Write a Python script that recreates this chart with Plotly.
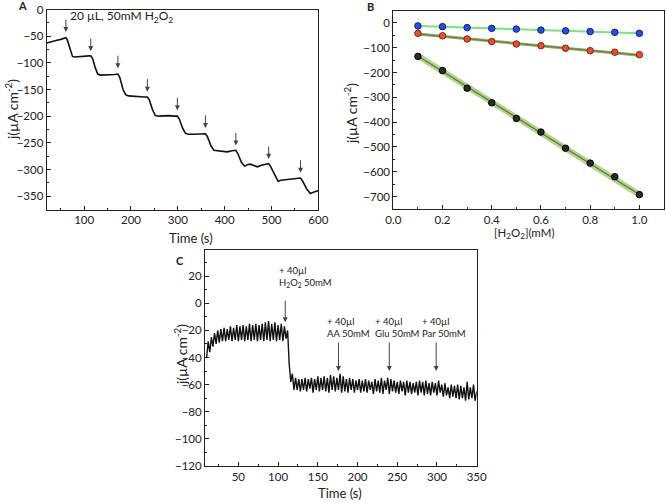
import plotly.graph_objects as go

W, H = 666, 503
FONT = "Lato"

# ---------------- Panel A data ----------------
a_time = [20, 30, 40, 50, 58, 61, 64, 70, 75, 80, 90, 100, 110, 114, 118, 124, 129, 135, 145, 155, 165, 172,
          176, 183, 189, 195, 205, 215, 228, 235, 239, 246, 252, 260, 270, 280, 292, 299, 303, 310, 316, 322,
          335, 348, 359, 363, 371, 377, 385, 395, 405, 416, 424, 428, 436, 443, 448, 455, 462, 470, 478, 488,
          494, 498, 507, 514, 520, 530, 540, 552, 562, 566, 575, 583, 588, 595, 600]
a_curr = [-63, -60, -58, -56, -54, -53, -57, -75, -88, -89, -88, -88, -87, -87, -92, -110, -121, -123, -123, -123,
          -122, -121, -127, -150, -160, -162, -163, -164, -164, -164, -169, -188, -199, -200, -199, -199, -200,
          -200, -205, -222, -232, -234, -234, -234, -233, -238, -256, -264, -265, -266, -267, -265, -264, -270,
          -287, -294, -291, -290, -293, -295, -292, -290, -289, -294, -310, -322, -320, -319, -319, -318, -316,
          -321, -336, -345, -343, -341, -340]
a_arrow_time = [61, 114, 172, 235, 299, 359, 424, 494, 562]
a_arrow_tip = [-42, -78, -110, -154, -189, -222, -255, -280, -306]

# ---------------- Panel B data ----------------
b_conc = [0.1, 0.2, 0.3, 0.4, 0.5, 0.6, 0.7, 0.8, 0.9, 1.0]
b_blue = [-12, -15, -19, -22, -25, -29, -32, -35, -38, -42]
b_red = [-42, -52, -65, -75, -85, -92, -102, -112, -118, -128]
b_black = [-135, -192, -263, -322, -385, -440, -505, -565, -620, -692]
b_fit_x = [0.1, 1.0]
b_fit_blue = [-12, -42]
b_fit_red = [-45, -130]
b_fit_black = [-133, -692]

# ---------------- Panel C data ----------------
c_time = [10, 12, 14, 16, 18, 20, 22, 24, 26, 28, 30, 32, 34, 36, 38, 40, 42, 44, 46, 48,
          50, 52, 54, 56, 58, 60, 62, 64, 66, 68, 70, 72, 74, 76, 78, 80, 82, 84, 86, 88,
          90, 92, 94, 96, 98, 100, 102, 104, 106, 108, 110, 112, 114, 116, 118, 120, 122, 124, 126, 128,
          130, 132, 134, 136, 138, 140, 142, 144, 146, 148, 150, 152, 154, 156, 158, 160, 162, 164, 166, 168,
          170, 172, 174, 176, 178, 180, 182, 184, 186, 188, 190, 192, 194, 196, 198, 200, 202, 204, 206, 208,
          210, 212, 214, 216, 218, 220, 222, 224, 226, 228, 230, 232, 234, 236, 238, 240, 242, 244, 246, 248,
          250, 252, 254, 256, 258, 260, 262, 264, 266, 268, 270, 272, 274, 276, 278, 280, 282, 284, 286, 288,
          290, 292, 294, 296, 298, 300, 302, 304, 306, 308, 310, 312, 314, 316, 318, 320, 322, 324, 326, 328,
          330, 332, 334, 336, 338, 340, 342, 344, 346, 348, 350]
c_curr = [-40, -28, -36, -25, -32, -22, -30, -20, -29, -19, -28, -18, -28, -19, -27, -17, -28, -18, -27, -16,
          -28, -17, -27, -16, -28, -17, -27, -15, -28, -16, -27, -15, -28, -16, -27, -15, -28, -14, -27, -13,
          -28, -15, -27, -14, -28, -16, -27, -15, -28, -17, -26, -20, -45, -58, -52, -64, -55, -64, -56, -65,
          -56, -64, -55, -65, -56, -63, -55, -66, -56, -64, -54, -65, -55, -64, -54, -65, -55, -66, -53, -64,
          -54, -65, -55, -64, -52, -66, -54, -65, -56, -66, -55, -64, -56, -66, -57, -64, -56, -66, -57, -65,
          -56, -66, -57, -64, -58, -67, -56, -65, -57, -66, -55, -67, -57, -64, -55, -67, -56, -65, -57, -66,
          -58, -67, -57, -65, -58, -68, -57, -66, -58, -67, -59, -66, -58, -68, -57, -66, -58, -68, -57, -67,
          -59, -68, -58, -66, -59, -68, -57, -66, -60, -69, -59, -68, -62, -70, -60, -69, -61, -70, -60, -71,
          -61, -70, -62, -72, -58, -71, -62, -70, -60, -72, -65]
c_arrow_time = [109, 176, 240, 299]
c_label_time = [98, 159, 219, 278]
c_labels = ["+ 40µl<br>H<sub>2</sub>O<sub>2</sub> 50mM", "+ 40µl<br>AA 50mM",
            "+ 40µl<br>Glu 50mM", "+ 40µl<br>Par 50mM"]

# ---------------- geometry helpers ----------------
def dx(x0, x1):
    return [x0 / W, x1 / W]

def dy(y0, y1):  # pixel top, pixel bottom
    return [1 - y1 / H, 1 - y0 / H]

def axis(domain, rng, dtick, minor_dtick, anchor, fmt=None):
    d = dict(domain=domain, range=rng, dtick=dtick, tick0=0, showline=True, linecolor="#222", linewidth=1,
             mirror=True, ticks="inside", ticklen=4, tickcolor="#222", tickwidth=1,
             minor=dict(ticks="inside", ticklen=2, dtick=minor_dtick, tick0=0, tickcolor="#222"),
             showgrid=False, zeroline=False, anchor=anchor, automargin=False,
             tickfont=dict(family=FONT, size=11.5, color="#222"))
    if fmt:
        d["tickformat"] = fmt
    return d

fig = go.Figure()

# Panel A
fig.add_trace(go.Scatter(x=a_time, y=a_curr, mode="lines", line=dict(color="#111", width=1.6),
                         xaxis="x", yaxis="y", showlegend=False))

# Panel B fits
fig.add_trace(go.Scatter(x=b_fit_x, y=b_fit_black, mode="lines", line=dict(color="#b3d38e", width=6),
                         xaxis="x2", yaxis="y2", showlegend=False))
fig.add_trace(go.Scatter(x=b_fit_x, y=b_fit_black, mode="lines", line=dict(color="#5d7a38", width=1.2),
                         xaxis="x2", yaxis="y2", showlegend=False))
fig.add_trace(go.Scatter(x=b_fit_x, y=b_fit_red, mode="lines", line=dict(color="#93ad63", width=3),
                         xaxis="x2", yaxis="y2", showlegend=False))
fig.add_trace(go.Scatter(x=b_fit_x, y=b_fit_red, mode="lines", line=dict(color="#5d7a38", width=1),
                         xaxis="x2", yaxis="y2", showlegend=False))
fig.add_trace(go.Scatter(x=b_fit_x, y=b_fit_blue, mode="lines", line=dict(color="#7ee07e", width=2),
                         xaxis="x2", yaxis="y2", showlegend=False))
for vals, fill, edge in [(b_blue, "#2a4ee0", "#0b1c85"), (b_red, "#e5502e", "#8a2410"),
                         (b_black, "#2a2a2a", "#000000")]:
    fig.add_trace(go.Scatter(x=b_conc, y=vals, mode="markers",
                             marker=dict(size=6.5, color=fill, line=dict(color=edge, width=1)),
                             xaxis="x2", yaxis="y2", showlegend=False))

# Panel C
fig.add_trace(go.Scatter(x=c_time, y=c_curr, mode="lines", line=dict(color="#111", width=1.4),
                         xaxis="x3", yaxis="y3", showlegend=False))

layout = dict(
    template="none",
    width=W, height=H, margin=dict(l=0, r=0, t=0, b=0, pad=0),
    paper_bgcolor="white", plot_bgcolor="white",
    font=dict(family=FONT, size=12, color="#222"),
    xaxis=axis(dx(46.7, 318.3), [20, 600], 100, 50, "y"),
    yaxis=axis(dy(9.5, 209.5), [-375, 0], 50, 25, "x"),
    xaxis2=axis(dx(393.3, 664), [0, 1.1], 0.2, 0.1, "y2", fmt=".1f"),
    yaxis2=axis(dy(10.5, 209), [-750, 50], 100, 50, "x2"),
    xaxis3=axis(dx(205, 476.7), [8, 350], 50, 25, "y3"),
    yaxis3=axis(dy(250, 465.7), [-120, 39.5], 20, 10, "x3"),
)
fig.update_layout(**layout)

ann = []
def ptext(x, y, text, size=13, angle=0, bold=False, xanchor="center"):
    ann.append(dict(x=x / W, y=1 - y / H, xref="paper", yref="paper", text=("<b>%s</b>" % text) if bold else text,
                    showarrow=False, textangle=angle, xanchor=xanchor, yanchor="middle",
                    font=dict(family=FONT, size=size, color="#222")))

# panel letters
ptext(22, 5, "A", 11, bold=True)
ptext(370, 6, "B", 11, bold=True)
ptext(180, 260, "C", 11, bold=True)
# axis titles
ptext(11, 110, "j(µA cm<sup>-2</sup>)", 14, angle=-90)
ptext(191, 238, "Time (s)", 13)
ptext(351, 113, "j(µA cm<sup>-2</sup>)", 14, angle=-90)
ptext(524, 233, "[H<sub>2</sub>O<sub>2</sub>](mM)", 11.5)
ptext(180, 355, "j(µA cm<sup>-2</sup>)", 14, angle=-90)
ptext(340, 493, "Time (s)", 13)

# Panel A arrows
for t, tip in zip(a_arrow_time, a_arrow_tip):
    ann.append(dict(x=t, y=tip, xref="x", yref="y", ax=0, ay=-14, showarrow=True, arrowhead=2,
                    arrowsize=1, arrowwidth=1, arrowcolor="#444", text=""))
ann.append(dict(x=66, y=-13, xref="x", yref="y", text="20 µL, 50mM H<sub>2</sub>O<sub>2</sub>", showarrow=False,
                xanchor="left", yanchor="middle", font=dict(family=FONT, size=12, color="#222")))

# Panel C arrows and labels
for i, (t, lt, lab) in enumerate(zip(c_arrow_time, c_label_time, c_labels)):
    first = (i == 0)
    ann.append(dict(x=t, y=-14 if first else -50, xref="x3", yref="y3", ax=0, ay=-23 if first else -30,
                    showarrow=True, arrowhead=2, arrowsize=1, arrowwidth=1, arrowcolor="#444", text=""))
    ann.append(dict(x=lt, y=19.5 if first else -18, xref="x3", yref="y3", text=lab, showarrow=False,
                    xanchor="left", yanchor="middle", align="left",
                    font=dict(family=FONT, size=9.5, color="#222")))

fig.update_layout(annotations=ann)
fig.write_html("out.html", post_script="document.body.style.margin='0px';",
               config={"displayModeBar": False})
